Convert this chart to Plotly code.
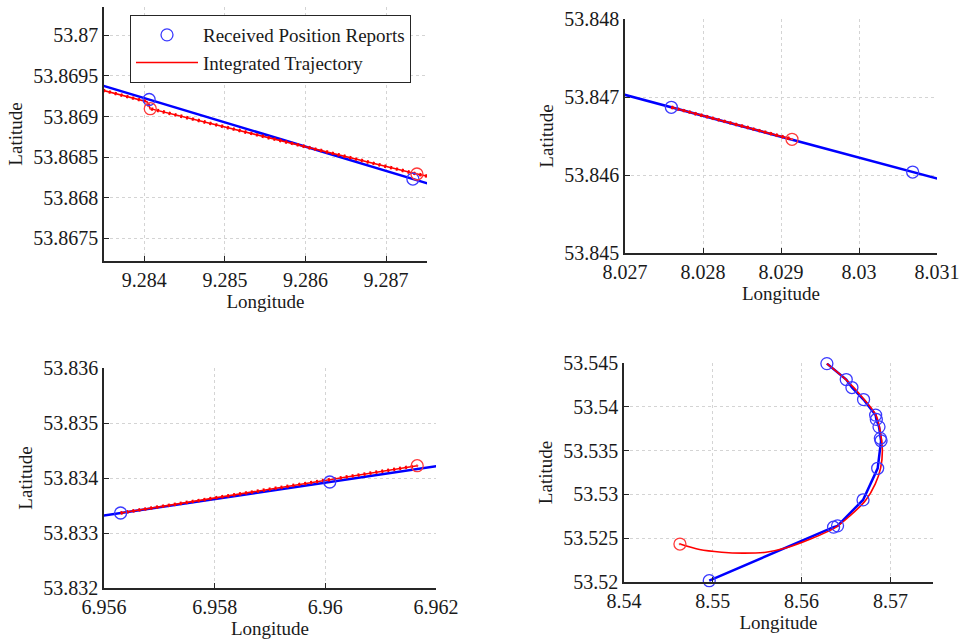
import plotly.graph_objects as go

FONT = "Liberation Serif, Times New Roman, serif"
AXC = "#262626"
BLUE = "#0000ff"
BLUE_C = "#3a3aff"
RED = "#ff0000"
RED_C = "#ff3a3a"

# ---------- Panel 1 (top-left) ----------
p1_rep_lon = [9.2830, 9.284060, 9.287333, 9.2880]
p1_rep_lat = [53.869527, 53.869210, 53.868230, 53.868030]
p1_traj_lon = [9.2832, 9.284033, 9.284074, 9.287383, 9.2877]
p1_traj_lat = [53.869397, 53.869183, 53.869097, 53.868292, 53.868227]
p1_red_lon = [9.284074, 9.287383]
p1_red_lat = [53.869097, 53.868292]
p1_xticks = [9.284, 9.285, 9.286, 9.287]
p1_xlabels = ["9.284", "9.285", "9.286", "9.287"]
p1_yticks = [53.8675, 53.868, 53.8685, 53.869, 53.8695, 53.87]
p1_ylabels = ["53.8675", "53.868", "53.8685", "53.869", "53.8695", "53.87"]

# ---------- Panel 2 (top-right) ----------
p2_rep_lon = [8.0262, 8.027594, 8.030688, 8.0318]
p2_rep_lat = [53.847242, 53.846868, 53.846038, 53.845740]
p2_traj_lon = [8.027594, 8.029141]
p2_traj_lat = [53.846868, 53.846458]
p2_red_lon = [8.029141]
p2_red_lat = [53.846458]
p2_xticks = [8.027, 8.028, 8.029, 8.030, 8.031]
p2_xlabels = ["8.027", "8.028", "8.029", "8.03", "8.031"]
p2_yticks = [53.845, 53.846, 53.847, 53.848]
p2_ylabels = ["53.845", "53.846", "53.847", "53.848"]

# ---------- Panel 3 (bottom-left) ----------
p3_rep_lon = [6.9530, 6.9563, 6.96008, 6.9640]
p3_rep_lat = [53.832872, 53.833364, 53.833927, 53.834511]
p3_traj_lon = [6.9563, 6.96166]
p3_traj_lat = [53.833364, 53.834224]
p3_red_lon = [6.96166]
p3_red_lat = [53.834224]
p3_xticks = [6.956, 6.958, 6.960, 6.962]
p3_xlabels = ["6.956", "6.958", "6.96", "6.962"]
p3_yticks = [53.832, 53.833, 53.834, 53.835, 53.836]
p3_ylabels = ["53.832", "53.833", "53.834", "53.835", "53.836"]

# ---------- Panel 4 (bottom-right) ----------
p4_rep_lon = [8.56285, 8.56503, 8.56567, 8.56698, 8.56834, 8.56842, 8.56872,
              8.56887, 8.56895, 8.56857, 8.56692, 8.56405, 8.56360, 8.54960]
p4_rep_lat = [53.54493, 53.54311, 53.54220, 53.54083, 53.53905, 53.53856, 53.53771,
              53.53640, 53.53612, 53.53298, 53.52937, 53.52641, 53.52626, 53.52015]
p4_traj_lon = [8.56285, 8.56500, 8.56700, 8.56840, 8.56890, 8.56910, 8.56890,
               8.56830, 8.56720, 8.56550, 8.56380, 8.56100, 8.55830, 8.55600,
               8.55340, 8.55100, 8.54850, 8.54630]
p4_traj_lat = [53.54493, 53.54310, 53.54090, 53.53900, 53.53700, 53.53500, 53.53300,
               53.53120, 53.52930, 53.52760, 53.52620, 53.52490, 53.52390, 53.52340,
               53.52330, 53.52340, 53.52370, 53.52433]
p4_red_lon = [8.54630]
p4_red_lat = [53.52433]
p4_xticks = [8.54, 8.55, 8.56, 8.57]
p4_xlabels = ["8.54", "8.55", "8.56", "8.57"]
p4_yticks = [53.52, 53.525, 53.53, 53.535, 53.54, 53.545]
p4_ylabels = ["53.52", "53.525", "53.53", "53.535", "53.54", "53.545"]

W, H = 966, 641

panels = [
    dict(rep=(p1_rep_lon, p1_rep_lat), traj=(p1_traj_lon, p1_traj_lat), red=(p1_red_lon, p1_red_lat),
         xt=(p1_xticks, p1_xlabels), yt=(p1_yticks, p1_ylabels),
         xr=[9.2835, 9.287508], yr=[53.86722, 53.87035], box=(104, 427, 7, 261), beads=True, spline=False),
    dict(rep=(p2_rep_lon, p2_rep_lat), traj=(p2_traj_lon, p2_traj_lat), red=(p2_red_lon, p2_red_lat),
         xt=(p2_xticks, p2_xlabels), yt=(p2_yticks, p2_ylabels),
         xr=[8.027, 8.031], yr=[53.845, 53.848], box=(625, 937, 19, 253), beads=True, spline=False),
    dict(rep=(p3_rep_lon, p3_rep_lat), traj=(p3_traj_lon, p3_traj_lat), red=(p3_red_lon, p3_red_lat),
         xt=(p3_xticks, p3_xlabels), yt=(p3_yticks, p3_ylabels),
         xr=[6.956, 6.962], yr=[53.832, 53.836], box=(104, 436, 368, 588), beads=True, spline=False),
    dict(rep=(p4_rep_lon, p4_rep_lat), traj=(p4_traj_lon, p4_traj_lat), red=(p4_red_lon, p4_red_lat),
         xt=(p4_xticks, p4_xlabels), yt=(p4_yticks, p4_ylabels),
         xr=[8.54, 8.5748], yr=[53.52, 53.545], box=(624, 933, 363, 582), beads=False, spline=True),
]

fig = go.Figure()
layout = {}
for i, p in enumerate(panels, start=1):
    sfx = "" if i == 1 else str(i)
    xa, ya = "x" + sfx, "y" + sfx
    first = (i == 1)
    noclip = (i == 4)
    fig.add_trace(go.Scatter(x=p["rep"][0], y=p["rep"][1], mode="lines", xaxis=xa, yaxis=ya,
                             line=dict(color=BLUE, width=2.5), showlegend=False, hoverinfo="skip"))
    fig.add_trace(go.Scatter(x=p["traj"][0], y=p["traj"][1], mode="lines", xaxis=xa, yaxis=ya,
                             line=dict(color=RED, width=1.6, shape="spline" if p["spline"] else "linear",
                                       smoothing=0.8),
                             name="Integrated Trajectory", legendgroup="traj", legendrank=2,
                             showlegend=first))
    if p["beads"]:
        fig.add_trace(go.Scatter(x=p["traj"][0], y=p["traj"][1], mode="lines", xaxis=xa, yaxis=ya,
                                 line=dict(color=RED, width=3.5, dash="2px,4px"),
                                 showlegend=False, hoverinfo="skip"))
    fig.add_trace(go.Scatter(x=p["rep"][0], y=p["rep"][1], mode="markers", xaxis=xa, yaxis=ya,
                             marker=dict(symbol="circle-open", size=12, color=BLUE_C, line=dict(width=1.3)),
                             name="Received Position Reports", legendgroup="rep", legendrank=1,
                             showlegend=first, cliponaxis=not noclip))
    fig.add_trace(go.Scatter(x=p["red"][0], y=p["red"][1], mode="markers", xaxis=xa, yaxis=ya,
                             marker=dict(symbol="circle-open-dot", size=12, color=RED_C, line=dict(width=1.3)),
                             showlegend=False))
    l, r, t, b = p["box"]
    common = dict(showline=True, linecolor=AXC, linewidth=1.5, mirror=False, automargin=False,
                  ticks="inside", ticklen=5, tickcolor=AXC, tickwidth=1,
                  showgrid=True, gridcolor="#d4d4d4", griddash="dot", gridwidth=1,
                  zeroline=False, tickfont=dict(family=FONT, size=20, color="#1a1a1a"),
                  title_font=dict(family=FONT, size=19, color="#1a1a1a"))
    layout["xaxis" + sfx] = dict(common, domain=[l / W, r / W], anchor=ya, range=p["xr"],
                                 tickmode="array", tickvals=p["xt"][0], ticktext=p["xt"][1],
                                 title=dict(text="Longitude", standoff=2))
    layout["yaxis" + sfx] = dict(common, domain=[1 - b / H, 1 - t / H], anchor=xa, range=p["yr"],
                                 tickmode="array", tickvals=p["yt"][0], ticktext=p["yt"][1],
                                 title=dict(text="Latitude", standoff=6))

fig.update_layout(**layout)
fig.update_layout(
    width=W, height=H, margin=dict(l=0, r=0, t=0, b=0, autoexpand=False),
    paper_bgcolor="white", plot_bgcolor="white",
    legend=dict(x=130 / W, y=1 - 15 / H, xanchor="left", yanchor="top",
                bgcolor="white", bordercolor=AXC, borderwidth=1,
                font=dict(family=FONT, size=19, color="#1a1a1a"), itemwidth=62,
                tracegroupgap=0),
)
fig.write_html("out.html")
